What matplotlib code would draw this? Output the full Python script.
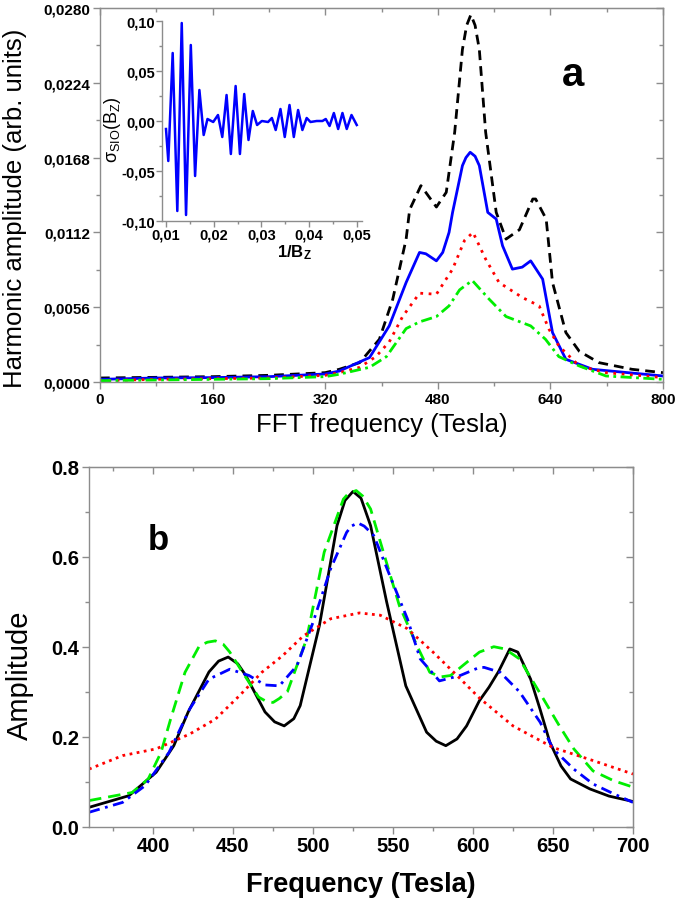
import numpy as np
import matplotlib
matplotlib.use('Agg')
import matplotlib.pyplot as plt
from matplotlib.ticker import MultipleLocator, FuncFormatter

plt.rcParams['font.family'] = ['Liberation Sans', 'DejaVu Sans']
plt.rcParams['mathtext.fontset'] = 'custom'
plt.rcParams['mathtext.rm'] = 'Liberation Sans'
plt.rcParams['mathtext.it'] = 'Liberation Sans:italic'
plt.rcParams['mathtext.bf'] = 'Liberation Sans:bold'

# ---- panel a: FFT spectra
fa_black = [0, 80, 160, 240, 320, 340, 369, 397, 416, 435, 440, 456, 478, 492, 504, 515, 521,
            527, 533, 539, 548, 563, 577, 596, 615, 619, 634, 643, 662, 681, 709, 756, 800]
ya_black = [0.0003, 0.00035, 0.0004, 0.0005, 0.0007, 0.00095, 0.00145, 0.0032, 0.0062, 0.0107,
            0.0129, 0.0147, 0.0131, 0.0142, 0.0187, 0.0249, 0.0267, 0.0275, 0.0267, 0.0249,
            0.0187, 0.0127, 0.0107, 0.0114, 0.0137, 0.0137, 0.0122, 0.00745, 0.0037, 0.0023,
            0.00145, 0.00095, 0.0007]
fa_blue = [0, 80, 160, 240, 320, 340, 383, 411, 435, 454, 463, 478, 487, 496, 501, 515, 520,
           526, 533, 539, 551, 563, 572, 586, 600, 612, 629, 643, 662, 700, 800]
ya_blue = [0.0002, 0.0003, 0.00033, 0.0004, 0.0006, 0.00082, 0.00183, 0.0042, 0.00745, 0.0097,
           0.0096, 0.00907, 0.0097, 0.0112, 0.0127, 0.0162, 0.0168, 0.0172, 0.0169, 0.0162,
           0.0127, 0.0122, 0.0102, 0.00845, 0.0086, 0.00907, 0.0077, 0.0037, 0.0017, 0.00095,
           0.00045]
fa_red = [0, 80, 160, 240, 320, 340, 369, 392, 411, 430, 454, 478, 501, 518, 530, 548, 567,
          600, 624, 638, 652, 681, 719, 800]
ya_red = [0.0001, 0.0002, 0.00025, 0.0003, 0.0005, 0.0007, 0.0011, 0.0019, 0.003, 0.0049,
          0.00665, 0.00657, 0.00845, 0.0106, 0.0112, 0.0092, 0.00745, 0.00633, 0.0057, 0.00395,
          0.0027, 0.0012, 0.0007, 0.00033]
fa_green = [0, 80, 160, 240, 320, 340, 383, 407, 435, 454, 478, 496, 511, 529, 553, 577, 612,
            633, 652, 681, 719, 800]
ya_green = [0.0001, 0.00015, 0.0002, 0.00025, 0.0004, 0.00058, 0.0011, 0.0019, 0.004, 0.0045,
            0.0049, 0.0057, 0.0069, 0.0076, 0.0062, 0.0049, 0.0042, 0.0032, 0.0019, 0.0012,
            0.00045, 0.0002]

# ---- inset: oscillatory part vs 1/B
inv_b = [0.0100, 0.01048, 0.0114, 0.01237, 0.0133, 0.0142, 0.0152, 0.0161, 0.0170, 0.0179,
         0.0187, 0.0199, 0.0209, 0.0218, 0.0227, 0.0236, 0.0246, 0.0255, 0.0264, 0.0273,
         0.0282, 0.0291, 0.0301, 0.0314, 0.0322, 0.0330, 0.0340, 0.0349, 0.0359, 0.0368,
         0.0377, 0.0386, 0.0395, 0.0403, 0.0416, 0.0428, 0.0435, 0.0443, 0.0452, 0.0461,
         0.0470, 0.0479, 0.0489, 0.0500]
sigma = [-0.008, -0.040, 0.068, -0.090, 0.098, -0.094, 0.076, -0.055, 0.031, -0.014,
         0.002, -0.001, 0.006, -0.016, 0.026, -0.033, 0.035, -0.033, 0.027, -0.019,
         0.010, -0.004, 0.000, -0.001, 0.003, -0.009, 0.012, -0.016, 0.016, -0.016,
         0.011, -0.009, 0.003, -0.001, 0.000, 0.000, 0.002, -0.005, 0.008, -0.008,
         0.008, -0.008, 0.006, -0.004]

# ---- panel b
fb_black = [360, 385, 402, 413, 422, 435, 441, 447, 453, 458, 470, 476, 482, 488, 492, 504,
            515, 520, 525, 530, 536, 546, 558, 571, 577, 583, 590, 596, 604, 610, 616, 623,
            628, 636, 642, 648, 655, 661, 673, 685, 700]
yb_black = [0.043, 0.069, 0.121, 0.18, 0.255, 0.344, 0.368, 0.377, 0.362, 0.336, 0.255, 0.233,
            0.224, 0.24, 0.269, 0.447, 0.669, 0.725, 0.745, 0.73, 0.669, 0.50, 0.313, 0.21,
            0.19, 0.18, 0.195, 0.224, 0.28, 0.31, 0.345, 0.395, 0.388, 0.328, 0.26, 0.188,
            0.135, 0.106, 0.084, 0.068, 0.056]
fb_green = [360, 387, 397, 405, 411, 420, 429, 434, 439, 444, 448, 456, 466, 470, 475, 479,
            484, 496, 507, 519, 522, 527, 531, 536, 544, 554, 565, 573, 580, 586, 596, 604,
            613, 620, 629, 644, 654, 663, 675, 688, 700]
yb_green = [0.058, 0.076, 0.106, 0.165, 0.239, 0.343, 0.402, 0.41, 0.413, 0.405, 0.388, 0.343,
            0.288, 0.28, 0.276, 0.285, 0.30, 0.417, 0.61, 0.728, 0.74, 0.747, 0.735, 0.706,
            0.61, 0.491, 0.402, 0.343, 0.333, 0.336, 0.365, 0.388, 0.40, 0.395, 0.373, 0.284,
            0.224, 0.173, 0.124, 0.102, 0.088]
fb_blue = [360, 381, 395, 410, 423, 435, 448, 460, 470, 479, 490, 500, 511, 521, 524, 528,
           532, 538, 548, 559, 567, 579, 592, 604, 607, 617, 629, 642, 650, 663, 675, 688, 700]
yb_blue = [0.032, 0.054, 0.091, 0.165, 0.262, 0.328, 0.35, 0.336, 0.315, 0.313, 0.358, 0.454,
           0.573, 0.654, 0.668, 0.675, 0.668, 0.647, 0.558, 0.462, 0.373, 0.324, 0.336, 0.354,
           0.354, 0.343, 0.30, 0.232, 0.173, 0.128, 0.095, 0.073, 0.054]
fb_red = [360, 381, 402, 423, 439, 454, 468, 481, 494, 511, 529, 542, 559, 575, 588, 604,
          625, 650, 675, 700]
yb_red = [0.128, 0.158, 0.173, 0.206, 0.239, 0.291, 0.343, 0.38, 0.424, 0.462, 0.475, 0.47,
          0.44, 0.388, 0.343, 0.286, 0.224, 0.176, 0.147, 0.117]

GRAY = '#8c8c8c'


def comma(fmt):
    return FuncFormatter(lambda v, p: (fmt % v).replace('.', ','))


def style_box(ax, tick_size, mirror=True):
    for s in ax.spines.values():
        s.set_color(GRAY)
        s.set_linewidth(1.0)
    ax.tick_params(which='both', direction='out', color=GRAY, width=1.0,
                   labelsize=tick_size, pad=2)
    ax.tick_params(which='major', length=5)
    ax.tick_params(which='minor', length=3)
    for lab in ax.get_xticklabels() + ax.get_yticklabels():
        lab.set_fontweight('bold')
    if mirror:
        # top / right ticks point inwards, without labels
        sx = ax.secondary_xaxis('top')
        sy = ax.secondary_yaxis('right')
        sx.set_xticks(ax.get_xticks())
        sx.xaxis.set_minor_locator(ax.xaxis.get_minor_locator())
        sy.set_yticks(ax.get_yticks())
        sy.yaxis.set_minor_locator(ax.yaxis.get_minor_locator())
        for sec in (sx, sy):
            sec.tick_params(which='both', direction='in', color=GRAY, width=1.0,
                            labeltop=False, labelright=False)
            sec.tick_params(which='major', length=5)
            sec.tick_params(which='minor', length=3)
            for s in sec.spines.values():
                s.set_color(GRAY)


fig = plt.figure(figsize=(6.75, 9.03), dpi=100)

# ---------------- panel a
ax1 = fig.add_axes([100 / 675, 1 - 383 / 903, 563 / 675, 374 / 903])
ax1.plot(fa_black, ya_black, color='black', lw=2, ls=(0, (3.5, 2.2)))
ax1.plot(fa_blue, ya_blue, color='#0000ff', lw=2, ls='-')
ax1.plot(fa_red, ya_red, color='#ff0000', lw=2, ls=(0, (1, 2)))
ax1.plot(fa_green, ya_green, color='#00ee00', lw=2, ls=(0, (4, 1.6, 1, 1.6)))
ax1.set_xlim(0, 800)
ax1.set_ylim(0, 0.028)
ax1.set_xticks(np.arange(0, 801, 160))
ax1.set_yticks(np.arange(0, 0.02801, 0.0056))
ax1.xaxis.set_minor_locator(MultipleLocator(80))
ax1.yaxis.set_minor_locator(MultipleLocator(0.0028))
ax1.yaxis.set_major_formatter(comma('%.4f'))
style_box(ax1, 11)
ax1.set_xlabel('FFT frequency (Tesla)', fontsize=18.5, va='top')
ax1.set_ylabel('Harmonic amplitude (arb. units)', fontsize=18.5)
ax1.xaxis.set_label_coords(0.5, -0.08)
ax1.yaxis.set_label_coords(-0.13, 0.468)
fig.text(573 / 675, 1 - 75 / 903, 'a', fontsize=29, fontweight='bold', ha='center', va='center')

# ---------------- inset
axi = fig.add_axes([162 / 675, 1 - 222 / 903, 200 / 675, 200 / 903])
axi.patch.set_alpha(0)
axi.plot(inv_b, sigma, color='#0000ff', lw=1.8)
axi.set_xlim(0.00916, 0.0511)
axi.set_ylim(-0.10, 0.10)
axi.set_xticks([0.01, 0.02, 0.03, 0.04, 0.05])
axi.set_yticks([-0.10, -0.05, 0.0, 0.05, 0.10])
axi.xaxis.set_minor_locator(MultipleLocator(0.005))
axi.yaxis.set_minor_locator(MultipleLocator(0.025))
axi.xaxis.set_major_formatter(comma('%.2f'))
axi.yaxis.set_major_formatter(comma('%.2f'))
axi.spines['top'].set_visible(False)
axi.spines['right'].set_visible(False)
style_box(axi, 10.5, mirror=False)
axi.tick_params(which='major', length=4)
axi.tick_params(which='minor', length=2)
axi.tick_params(axis='x', pad=1)
axi.tick_params(axis='y', pad=1)
axi.set_xlabel(r'$\mathbf{1/B_Z}$', fontsize=12, va='top')
axi.set_ylabel(r'$\mathrm{\sigma_{SIO}(B_Z)}$', fontsize=13)
axi.xaxis.set_label_coords(0.66, -0.105)
axi.yaxis.set_label_coords(-0.195, 0.46)

# ---------------- panel b
ax2 = fig.add_axes([89 / 675, 1 - 827.7 / 903, 544 / 675, 360 / 903])
ax2.plot(fb_black, yb_black, color='black', lw=2, ls='-')
ax2.plot(fb_green, yb_green, color='#00ee00', lw=2, ls=(0, (4.5, 2.5)))
ax2.plot(fb_blue, yb_blue, color='#0000ff', lw=2, ls=(0, (4, 2, 1, 2)))
ax2.plot(fb_red, yb_red, color='#ff0000', lw=2, ls=(0, (1, 1.6)))
ax2.set_xlim(360, 700)
ax2.set_ylim(0, 0.8)
ax2.set_xticks(np.arange(400, 701, 50))
ax2.set_yticks(np.arange(0, 0.801, 0.2))
ax2.xaxis.set_minor_locator(MultipleLocator(25))
ax2.yaxis.set_minor_locator(MultipleLocator(0.1))
ax2.yaxis.set_major_formatter(FuncFormatter(lambda v, p: '%.1f' % v))
style_box(ax2, 14.5)
ax2.set_xlabel('Frequency (Tesla)', fontsize=19.5, fontweight='bold', va='top')
ax2.set_ylabel('Amplitude', fontsize=21)
ax2.xaxis.set_label_coords(0.5, -0.122)
ax2.yaxis.set_label_coords(-0.101, 0.424)
fig.text(158 / 675, 1 - 540 / 903, 'b', fontsize=25, fontweight='bold', ha='center', va='center')

fig.savefig('out.png', dpi=100)
